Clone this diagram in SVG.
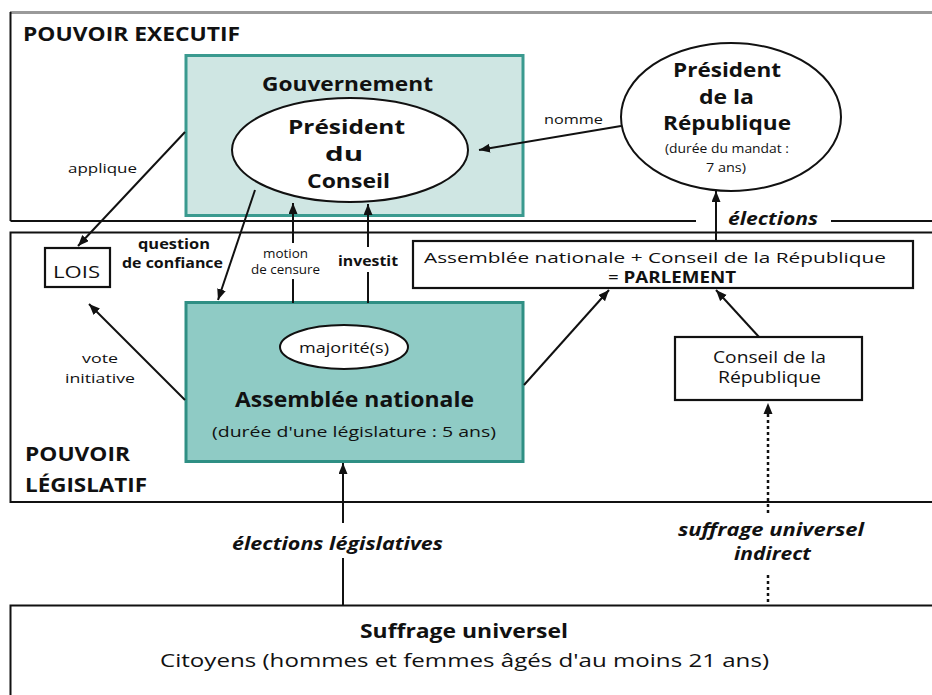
<svg xmlns="http://www.w3.org/2000/svg" width="932" height="695" viewBox="0 0 932 695">
<style>
text{font-family:"Open Sans","Noto Sans","Liberation Sans",sans-serif;fill:#111;}
.b{font-weight:bold;}
.i{font-style:italic;font-weight:bold;}
.pl{fill:none;stroke:#111;stroke-width:2;}
.cn{fill:none;stroke:#111;stroke-width:2;}
.ar{marker-end:url(#ah);}
.dot{fill:none;stroke:#111;stroke-width:2.5;stroke-dasharray:3 3;}
.box{fill:#fff;stroke:#111;stroke-width:2.2;}
.ell{fill:#fff;stroke:#111;stroke-width:2;}
</style>
<defs>
<marker id="ah" markerUnits="userSpaceOnUse" markerWidth="12" markerHeight="10" refX="11" refY="4.5" orient="auto">
<path d="M0,0 L11,4.5 L0,9 z" fill="#111"/>
</marker>
</defs>
<rect x="0" y="0" width="932" height="695" fill="#fff"/>

<g id="panels">
<line x1="10" y1="12.5" x2="932" y2="12.5" stroke="#9a9a9a" stroke-width="3"/>
<line class="pl" x1="10.5" y1="12" x2="10.5" y2="221"/>
<polyline class="pl" points="10.5,221 696,221"/>
<line class="pl" x1="831" y1="221" x2="932" y2="221"/>
<polyline class="pl" points="932,232.5 10.5,232.5 10.5,502 932,502"/>
<polyline class="pl" points="932,605.5 10.5,605.5 10.5,695"/>
<text class="b" x="23" y="41" font-size="20" textLength="217" lengthAdjust="spacingAndGlyphs">POUVOIR EXECUTIF</text>
<text class="b" x="25" y="461" font-size="20" textLength="105" lengthAdjust="spacingAndGlyphs">POUVOIR</text>
<text class="b" x="25" y="492" font-size="20" textLength="122" lengthAdjust="spacingAndGlyphs">LÉGISLATIF</text>
</g>

<g id="gouvernement">
<rect x="186" y="55.5" width="337" height="160" fill="#cfe6e3" stroke="#3a9a8f" stroke-width="3"/>
<text class="b" x="262" y="91" font-size="20" textLength="171" lengthAdjust="spacingAndGlyphs">Gouvernement</text>
</g>

<g id="president-conseil">
<ellipse class="ell" cx="350" cy="150" rx="118" ry="52"/>
<text class="b" x="288" y="134" font-size="20" textLength="117" lengthAdjust="spacingAndGlyphs">Président</text>
<text class="b" x="325" y="161" font-size="20" textLength="38" lengthAdjust="spacingAndGlyphs">du</text>
<text class="b" x="307" y="188" font-size="20" textLength="83" lengthAdjust="spacingAndGlyphs">Conseil</text>
</g>

<g id="president-republique">
<ellipse class="ell" cx="731" cy="117" rx="110" ry="74"/>
<text class="b" x="673" y="77" font-size="20" textLength="108" lengthAdjust="spacingAndGlyphs">Président</text>
<text class="b" x="699" y="104" font-size="20" textLength="55" lengthAdjust="spacingAndGlyphs">de la</text>
<text class="b" x="663" y="130" font-size="20" textLength="128" lengthAdjust="spacingAndGlyphs">République</text>
<text x="665" y="153" font-size="12" textLength="124" lengthAdjust="spacingAndGlyphs">(durée du mandat :</text>
<text x="706" y="172" font-size="12" textLength="40" lengthAdjust="spacingAndGlyphs">7 ans)</text>
</g>

<g id="lois">
<rect class="box" x="45" y="248" width="65" height="39"/>
<text x="53" y="278" font-size="16" textLength="47" lengthAdjust="spacingAndGlyphs">LOIS</text>
</g>

<g id="parlement">
<rect class="box" x="413" y="241" width="500" height="47"/>
<text x="424" y="263" font-size="15" textLength="462" lengthAdjust="spacingAndGlyphs">Assemblée nationale + Conseil de la République</text>
<text x="608" y="283" font-size="16" textLength="128" lengthAdjust="spacingAndGlyphs"><tspan>= </tspan><tspan class="b">PARLEMENT</tspan></text>
</g>

<g id="assemblee">
<rect x="186" y="302.5" width="337" height="159" fill="#8fcbc5" stroke="#2f8f84" stroke-width="3"/>
<ellipse class="ell" cx="344" cy="347" rx="64" ry="22"/>
<text x="299" y="353" font-size="15" textLength="90" lengthAdjust="spacingAndGlyphs">majorité(s)</text>
<text class="b" x="235" y="407" font-size="21" textLength="239" lengthAdjust="spacingAndGlyphs">Assemblée nationale</text>
<text x="212" y="437" font-size="14" textLength="284" lengthAdjust="spacingAndGlyphs">(durée d'une législature : 5 ans)</text>
</g>

<g id="conseil-republique">
<rect class="box" x="675" y="337" width="187" height="63"/>
<text x="713" y="363" font-size="16" textLength="113" lengthAdjust="spacingAndGlyphs">Conseil de la</text>
<text x="718" y="383" font-size="16" textLength="103" lengthAdjust="spacingAndGlyphs">République</text>
</g>

<g id="suffrage">
<text class="b" x="360" y="638" font-size="19" textLength="208" lengthAdjust="spacingAndGlyphs">Suffrage universel</text>
<text x="160" y="667" font-size="19" textLength="609" lengthAdjust="spacingAndGlyphs">Citoyens (hommes et femmes âgés d'au moins 21 ans)</text>
</g>

<g id="connectors">
<line class="cn ar" x1="621" y1="126" x2="479" y2="150"/>
<text x="544" y="124" font-size="13" textLength="59" lengthAdjust="spacingAndGlyphs">nomme</text>

<line class="cn ar" x1="185" y1="132" x2="78" y2="246"/>
<text x="68" y="173" font-size="13" textLength="69" lengthAdjust="spacingAndGlyphs">applique</text>

<line class="cn ar" x1="255" y1="190" x2="218" y2="300"/>
<text class="b" x="138" y="249" font-size="14" textLength="72" lengthAdjust="spacingAndGlyphs">question</text>
<text class="b" x="122" y="268" font-size="14" textLength="101" lengthAdjust="spacingAndGlyphs">de confiance</text>

<line class="cn ar" x1="293" y1="243" x2="293" y2="203"/>
<line class="cn" x1="293" y1="279" x2="293" y2="303"/>
<text x="263" y="258" font-size="12" textLength="45" lengthAdjust="spacingAndGlyphs">motion</text>
<text x="251" y="274" font-size="12" textLength="69" lengthAdjust="spacingAndGlyphs">de censure</text>

<line class="cn ar" x1="368" y1="247" x2="368" y2="204"/>
<line class="cn" x1="368" y1="272" x2="368" y2="303"/>
<text class="b" x="338" y="266" font-size="15" textLength="60" lengthAdjust="spacingAndGlyphs">investit</text>

<line class="cn ar" x1="185" y1="400" x2="89" y2="304"/>
<text x="82" y="363" font-size="13" textLength="36" lengthAdjust="spacingAndGlyphs">vote</text>
<text x="65" y="383" font-size="13" textLength="70" lengthAdjust="spacingAndGlyphs">initiative</text>

<line class="cn ar" x1="716" y1="241" x2="716" y2="191"/>
<text class="i" x="728" y="225" font-size="18" textLength="90" lengthAdjust="spacingAndGlyphs">élections</text>

<line class="cn ar" x1="524" y1="385" x2="609" y2="290"/>
<line class="cn ar" x1="759" y1="337" x2="716" y2="290"/>

<line class="cn ar" x1="343" y1="523" x2="343" y2="463"/>
<line class="cn" x1="343" y1="558" x2="343" y2="606"/>
<text class="i" x="232" y="550" font-size="17" textLength="211" lengthAdjust="spacingAndGlyphs">élections législatives</text>

<line class="dot" x1="768" y1="513" x2="768" y2="413"/>
<path d="M768,403 L772.5,414 L763.5,414 z" fill="#111"/>
<line class="dot" x1="768" y1="575" x2="768" y2="606"/>
<text class="i" x="678" y="536" font-size="17" textLength="186" lengthAdjust="spacingAndGlyphs">suffrage universel</text>
<text class="i" x="734" y="560" font-size="17" textLength="77" lengthAdjust="spacingAndGlyphs">indirect</text>
</g>
</svg>
